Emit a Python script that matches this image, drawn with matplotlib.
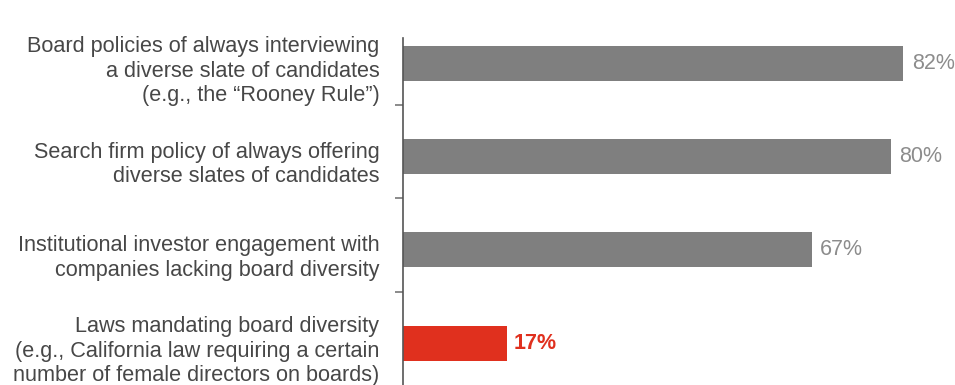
import matplotlib.pyplot as plt
from matplotlib.ticker import FixedLocator
from matplotlib.transforms import ScaledTranslation

labels = [
    "Board policies of always interviewing\na diverse slate of candidates\n(e.g., the \u201cRooney Rule\u201d)",
    "Search firm policy of always offering\ndiverse slates of candidates",
    "Institutional investor engagement with\ncompanies lacking board diversity",
    "Laws mandating board diversity\n(e.g., California law requiring a certain\nnumber of female directors on boards)",
]
values = [82, 80, 67, 17]
highlight = [False, False, False, True]

GRAY = "#7f7f7f"
RED = "#e0301e"

plt.rcParams["font.family"] = ["Liberation Sans", "DejaVu Sans"]

fig = plt.figure(figsize=(9.55, 3.85), dpi=100)
ax = fig.add_axes([0.422, 0.0, 0.578, 0.901])

ypos = list(range(len(values)))
colors = [RED if h else GRAY for h in highlight]
ax.barh(ypos, values, height=0.375, color=colors)

ax.set_xlim(0, 90.5)
ax.set_ylim(3.45, -0.268)

for s in ["top", "right", "bottom"]:
    ax.spines[s].set_visible(False)
ax.spines["left"].set_color("#555555")
ax.spines["left"].set_linewidth(1.2)
ax.set_xticks([])

ax.set_yticks(ypos)
ax.set_yticklabels(labels, fontsize=15.6, color="#474747", linespacing=1.21)
ax.tick_params(axis="y", which="major", length=0, pad=17)
# nudge the category labels down a little
shift = ScaledTranslation(0, -0.04, fig.dpi_scale_trans)
for lbl in ax.get_yticklabels():
    lbl.set_transform(lbl.get_transform() + shift)
ax.yaxis.set_minor_locator(FixedLocator([0.45, 1.45, 2.45]))
ax.tick_params(axis="y", which="minor", length=6, width=1.2, color="#777777")

for y, v, h in zip(ypos, values, highlight):
    if h:
        ax.text(v + 1.2, y, f"{v}%", va="center", ha="left",
                fontsize=15.5, color=RED, fontweight="bold")
    else:
        ax.text(v + 1.4, y, f"{v}%", va="center", ha="left",
                fontsize=15.5, color="#8c8c8c")

fig.savefig("out.png", dpi=100)
